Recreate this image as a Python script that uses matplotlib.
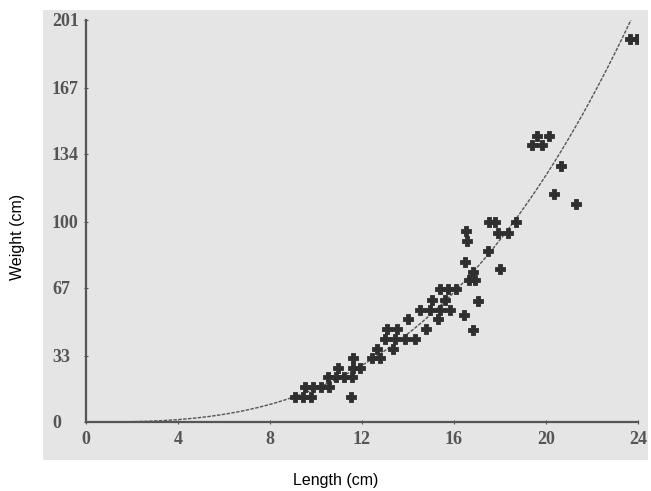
import numpy as np
import matplotlib
matplotlib.use("Agg")
import matplotlib.pyplot as plt
from matplotlib.patches import Rectangle

# fish length (cm) and weight
length = [9.1, 9.45, 9.8, 11.52,
          9.52, 9.87, 10.22, 10.57,
          10.52, 10.87, 11.22, 11.57,
          10.96, 11.6, 11.91,
          11.6, 12.43, 12.78,
          12.65, 13.35,
          13.0, 13.43, 13.87, 14.3,
          13.09, 13.52, 14.78,
          14.0, 15.3,
          14.52, 14.96, 15.39, 15.83,
          15.04, 15.61,
          15.39, 15.74, 16.09,
          16.43, 16.83, 17.04,
          16.65, 16.91, 16.83, 16.48, 18.0,
          17.48, 16.57, 16.52, 17.91, 18.35,
          17.52, 17.78, 18.7,
          21.3, 20.35, 20.65,
          19.39, 19.83, 19.6, 20.13,
          23.65, 23.96]
weight = [12.4, 12.4, 12.4, 12.4,
          17.3, 17.3, 17.3, 17.3,
          22.3, 22.3, 22.3, 22.3,
          27.2, 27.2, 27.2,
          32.2, 32.2, 32.2,
          36.6, 36.6,
          41.6, 41.6, 41.6, 41.6,
          46.5, 46.5, 46.5,
          51.5, 51.5,
          56.0, 56.0, 56.0, 56.0,
          61.0, 61.0,
          66.3, 66.3, 66.3,
          53.5, 46.0, 60.4,
          70.8, 70.8, 75.2, 80.2, 76.7,
          85.6, 90.6, 95.5, 94.5, 94.5,
          100.0, 100.0, 100.0,
          109.0, 114.0, 128.0,
          138.6, 138.6, 143.0, 143.0,
          191.6, 191.6]

x_ticks = [0, 4, 8, 12, 16, 20, 24]
y_ticks = [0, 33, 67, 100, 134, 167, 201]

# power-law trend W = a * L^b fitted on the points
L = np.array(length)
W = np.array(weight)
b, log_a = np.polyfit(np.log(L), np.log(W), 1)
xc = np.linspace(0, 24, 300)
yc = np.exp(log_a) * xc ** b

fig = plt.figure(figsize=(6.51, 4.91), dpi=100)

# grey scanned-paper panel, behind the axes
fig.patches.append(Rectangle((43 / 651, 1 - 460 / 491), (648 - 43) / 651, (460 - 10) / 491,
                             transform=fig.transFigure, facecolor='#e5e5e5', edgecolor='none', zorder=-10))

ax = fig.add_axes([86 / 651, 69 / 491, (638 - 86) / 651, (422 - 20) / 491])
ax.patch.set_alpha(0)
ax.set_xlim(0, 24)
ax.set_ylim(0, 201)

ax.plot(xc, yc, color='#555555', lw=1.0, ls=(0, (2.5, 1)), zorder=2)
ax.scatter(L, W, marker='P', s=60, color='#2f2f2f', edgecolors='#2f2f2f', linewidths=0.6, zorder=3)

for s in ['top', 'right']:
    ax.spines[s].set_visible(False)
for s in ['left', 'bottom']:
    ax.spines[s].set_color('#555555')
    ax.spines[s].set_linewidth(1.6)

tick_font = dict(family='Liberation Serif', size=13, weight='bold')
ax.set_xticks(x_ticks)
ax.set_yticks(y_ticks)
ax.set_xticklabels([str(t) for t in x_ticks], color='#555555', **tick_font)
ax.set_yticklabels([str(t) for t in y_ticks], color='#555555', ha='left', **tick_font)
ax.tick_params(axis='x', direction='inout', length=3, color='#555555', pad=5)
ax.tick_params(axis='y', direction='inout', length=3, color='#555555', pad=23)

fig.text(336 / 651, 1 - 480 / 491, 'Length (cm)', family='Liberation Sans', size=11.5,
         ha='center', va='center')
fig.text(18 / 651, 1 - 237 / 491, 'Weight (cm)', family='Liberation Sans', size=11.5,
         ha='center', va='center', rotation=90)

fig.savefig('out.png', dpi=100)
